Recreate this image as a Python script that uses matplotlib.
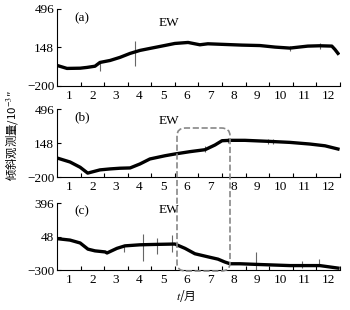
import numpy as np
import matplotlib.pyplot as plt
from matplotlib.patches import FancyBboxPatch

plt.rcParams['font.family'] = ['Liberation Serif', 'Noto Sans CJK SC', 'DejaVu Sans']
plt.rcParams['mathtext.fontset'] = 'stix'

# month labels sit in the middle of each month
months = [str(m) for m in range(1, 13)]

# (a) EW
ta = [0, 0.42, 0.98, 1.27, 1.61, 1.82, 2.25, 2.67, 3.10, 3.52, 3.94, 4.58, 5.00,
      5.56, 6.06, 6.40, 7.12, 7.85, 8.61, 9.25, 9.88, 10.64, 11.15, 11.66, 11.79, 11.92]
va = [-15, -42, -40, -33, -22, 12, 30, 58, 94, 121, 139, 166, 184,
      193, 172, 181, 175, 169, 165, 151, 142, 160, 163, 160, 130, 94]
spk_a_t = [1.82, 3.31, 9.88, 11.15]
spk_a_lo = [-61, -24, 112, 130]
spk_a_hi = [21, 202, 157, 184]

# (b) EW
tb = [0, 0.55, 0.98, 1.30, 1.82, 2.25, 2.67, 3.10, 3.52, 3.94, 4.58, 5.00, 5.64,
      6.28, 6.70, 7.00, 7.34, 7.97, 9.03, 9.88, 10.73, 11.37, 11.92]
vb = [-5, -46, -100, -160, -127, -117, -110, -107, -66, -15, 18, 36, 60,
      80, 128, 172, 176, 176, 165, 155, 138, 120, 87]
spk_b_t = [6.28, 7.25, 8.97, 9.18]
spk_b_lo = [59, 150, 138, 138]
spk_b_hi = [120, 199, 189, 189]

# (c) EW
tc = [0, 0.55, 0.98, 1.31, 1.61, 2.04, 2.12, 2.54, 2.88, 3.52, 4.16, 5.00, 5.43,
      5.85, 6.49, 6.83, 7.12, 7.34, 7.76, 8.61, 9.88, 11.15, 11.92]
vc = [26, 11, -19, -83, -101, -112, -123, -75, -49, -38, -34, -30, -75,
      -131, -168, -187, -217, -235, -235, -243, -254, -254, -280]
spk_c_t = [2.84, 3.65, 4.24, 4.88, 8.44, 10.39, 11.11]
spk_c_lo = [-112, -210, -131, -112, -299, -280, -262]
spk_c_hi = [-49, 70, 29, 67, -112, -206, -187]

panels = [
    ('(a)', ta, va, spk_a_t, spk_a_lo, spk_a_hi, (-200, 148, 496), [0.163, 0.723, 0.808, 0.248]),
    ('(b)', tb, vb, spk_b_t, spk_b_lo, spk_b_hi, (-200, 148, 496), [0.163, 0.429, 0.808, 0.219]),
    ('(c)', tc, vc, spk_c_t, spk_c_lo, spk_c_hi, (-300, 48, 396), [0.163, 0.129, 0.808, 0.216]),
]

fig = plt.figure(figsize=(3.5, 3.1), dpi=100)

for name, t, v, st, slo, shi, yt, pos in panels:
    ax = fig.add_axes(pos)
    ax.vlines(st, slo, shi, color='#666666', lw=0.8)
    ax.plot(t, v, color='black', lw=2.4, solid_joinstyle='round')
    ax.set_xlim(0, 12)
    ax.set_ylim(yt[0], yt[2])
    ax.spines['top'].set_visible(False)
    ax.spines['right'].set_visible(False)
    ax.set_xticks(np.arange(1, 13))
    ax.set_xticklabels([])
    ax.set_xticks(np.arange(12) + 0.5, minor=True)
    ax.set_xticklabels(months, minor=True, fontsize=9.5)
    ax.tick_params(axis='x', which='major', direction='in', length=3)
    ax.tick_params(axis='x', which='minor', length=0, pad=3)
    ax.set_yticks(yt)
    ax.set_yticklabels([str(y).replace('-', '\u2212') for y in yt], fontsize=9.5)
    ax.tick_params(axis='y', direction='in', length=3, pad=2)
    ax.text(0.06, 0.88, name, transform=ax.transAxes, fontsize=9.5, va='center')
    ax.text(0.36, 0.82 if name != '(c)' else 0.9, 'EW', transform=ax.transAxes,
            fontsize=9.5, va='center')

# dashed box linking (b) and (c)
box = FancyBboxPatch((177 / 350, 1 - 271 / 310), 53 / 350, 143 / 310,
                     boxstyle='round,pad=0,rounding_size=0.025',
                     transform=fig.transFigure, fill=False, ec='#888888',
                     ls='--', lw=1.2)
fig.patches.append(box)

fig.text(12 / 350, 1 - 136 / 310, '倾斜观测量/10$^{-3}$″', rotation=90,
         ha='center', va='center', fontsize=8.2,
         family=['Noto Sans CJK SC', 'DejaVu Sans'])
fig.text(186 / 350, 1 - 296 / 310, '$t$/月', ha='center', va='center',
         fontsize=8.5, family=['Noto Sans CJK SC', 'DejaVu Sans'])

fig.savefig('out.png', dpi=100)
